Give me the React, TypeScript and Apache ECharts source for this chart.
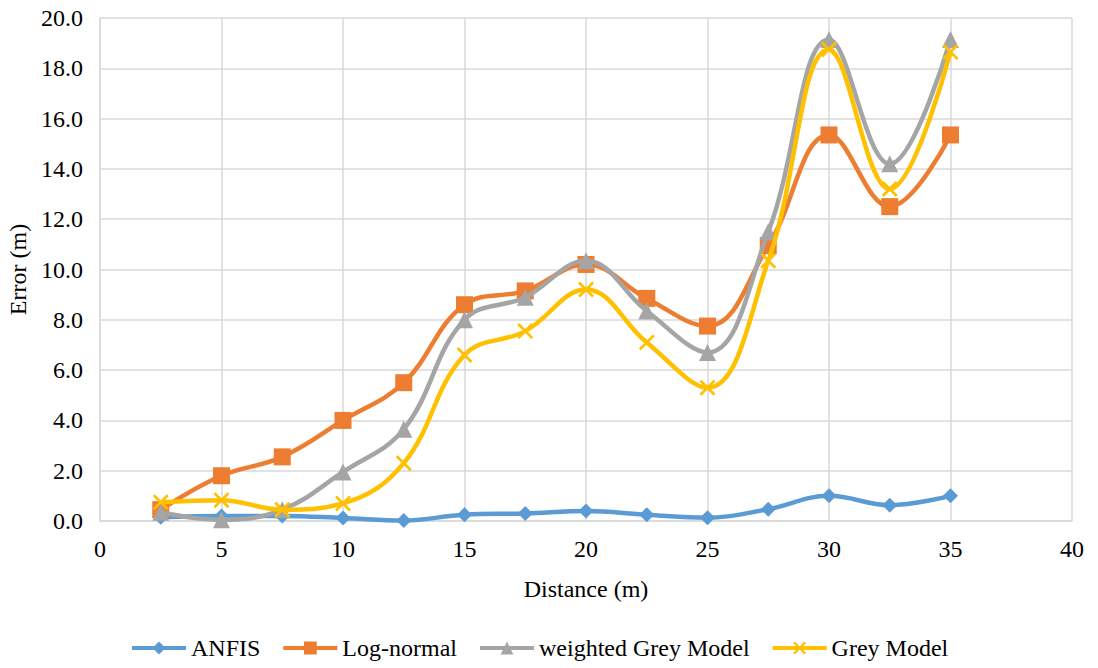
import React, { useEffect, useRef } from "react";
import * as echarts from "echarts";

const distances = [2.5, 5, 7.5, 10, 12.5, 15, 17.5, 20, 22.5, 25, 27.5, 30, 32.5, 35];
const anfis = [0.15, 0.2, 0.2, 0.12, 0.02, 0.25, 0.3, 0.4, 0.25, 0.13, 0.47, 1.0, 0.63, 1.0];
const logNormal = [0.45, 1.8, 2.55, 4.0, 5.5, 8.6, 9.15, 10.2, 8.85, 7.75, 10.95, 15.35, 12.5, 15.35];
const weightedGrey = [0.35, 0.05, 0.45, 1.95, 3.65, 8.0, 8.9, 10.35, 8.35, 6.7, 11.5, 19.15, 14.2, 19.15];
const greyModel = [0.75, 0.83, 0.45, 0.7, 2.3, 6.6, 7.55, 9.2, 7.1, 5.3, 10.35, 18.75, 13.2, 18.65];
const seriesNames = ["ANFIS", "Log-normal", "weighted Grey Model", "Grey Model"];
const colors = ["#5B9BD5", "#ED7D31", "#A5A5A5", "#FFC000"];

const FONT = "Liberation Serif";
const FS = 24;
const CROSS = "path://M0,1.2 L1.2,0 L5,3.8 L8.8,0 L10,1.2 L6.2,5 L10,8.8 L8.8,10 L5,6.2 L1.2,10 L0,8.8 L3.8,5 Z";

export default function App() {
  const ref = useRef<HTMLDivElement>(null);
  useEffect(() => {
    if (!ref.current) return;
    const chart = echarts.init(ref.current, null, { renderer: "svg" });
    const pair = (vals: number[]) => distances.map((d, i) => [d, vals[i]]);
    const symbols = ["diamond", "rect", "triangle", CROSS];
    const sizes = [15, 17, 17, 16];
    const all = [anfis, logNormal, weightedGrey, greyModel];
    chart.setOption({
      animation: false,
      backgroundColor: "#ffffff",
      textStyle: { fontFamily: FONT, color: "#000" },
      grid: { left: 100, right: 26, top: 18, bottom: 147, outerBoundsMode: "none" },
      legend: {
        data: seriesNames,
        bottom: 3,
        left: 125,
        itemWidth: 54,
        itemHeight: 16,
        itemGap: 21,
        lineStyle: { width: 4 },
        textStyle: { fontFamily: FONT, fontSize: FS, color: "#000" },
      },
      xAxis: {
        type: "value",
        min: 0,
        max: 40,
        interval: 5,
        name: "Distance (m)",
        nameLocation: "middle",
        nameGap: 56,
        nameTextStyle: { fontFamily: FONT, fontSize: FS, color: "#000" },
        axisLine: { lineStyle: { color: "#d9d9d9", width: 1.5 } },
        axisTick: { show: false },
        axisLabel: { fontFamily: FONT, fontSize: FS, color: "#000", margin: 16 },
        splitLine: { show: true, lineStyle: { color: "#d9d9d9", width: 1.5 } },
      },
      yAxis: {
        type: "value",
        min: 0,
        max: 20,
        interval: 2,
        name: "Error (m)",
        nameLocation: "middle",
        nameGap: 70,
        nameTextStyle: { fontFamily: FONT, fontSize: FS, color: "#000" },
        axisLine: { show: true, lineStyle: { color: "#d9d9d9", width: 1.5 } },
        axisTick: { show: false },
        axisLabel: {
          fontFamily: FONT,
          fontSize: FS,
          color: "#000",
          margin: 17,
          formatter: (v: number) => v.toFixed(1),
        },
        splitLine: { show: true, lineStyle: { color: "#d9d9d9", width: 1.5 } },
      },
      series: seriesNames.map((name, i) => ({
        name,
        type: "line",
        data: pair(all[i]),
        smooth: 0.4,
        symbol: symbols[i],
        symbolSize: sizes[i],
        showAllSymbol: true,
        lineStyle: { color: colors[i], width: 4.5 },
        itemStyle: { color: colors[i] },
        z: 2 + i,
      })),
    });
    return () => chart.dispose();
  }, []);
  return <div ref={ref} style={{ width: 1098, height: 668, position: "absolute", left: 0, top: 0 }} />;
}
